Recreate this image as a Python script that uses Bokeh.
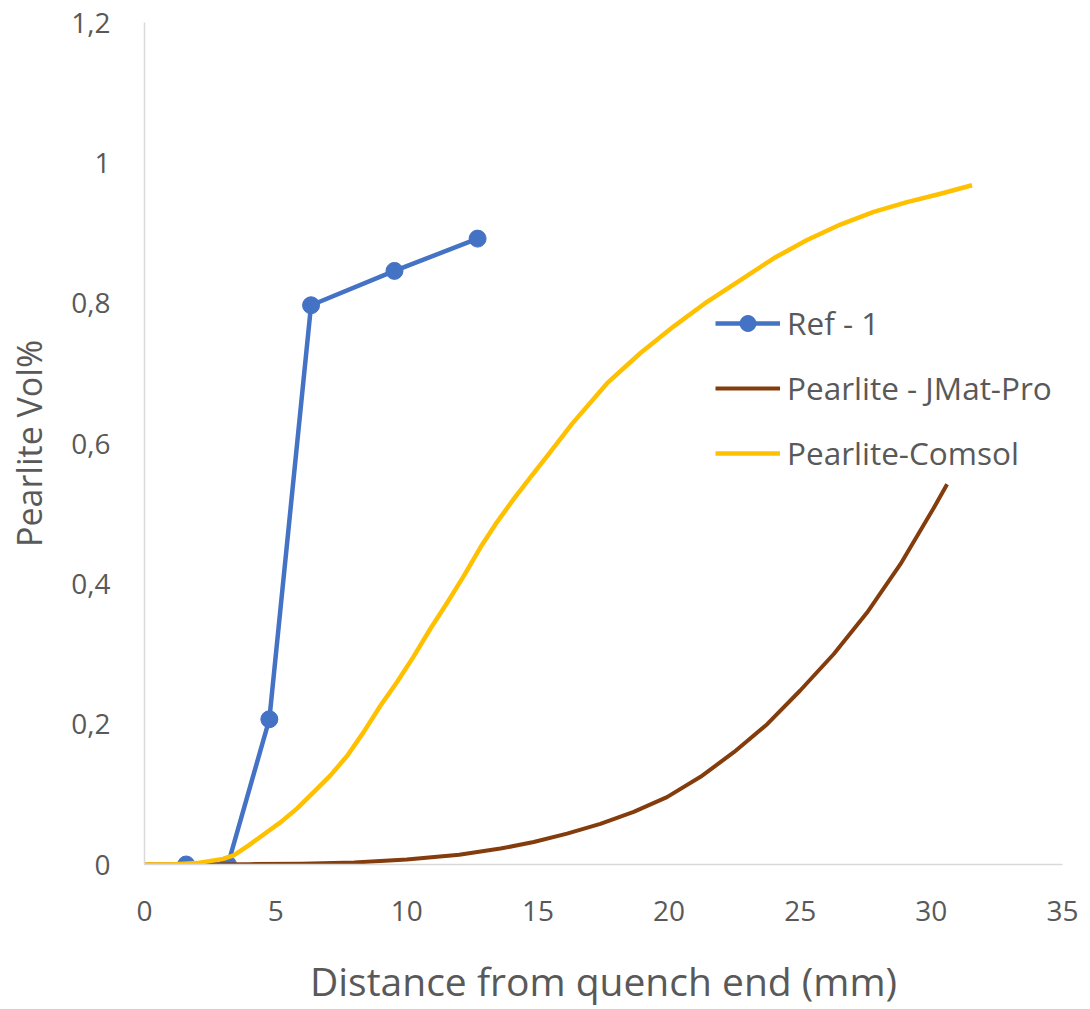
from bokeh.plotting import figure
from bokeh.models import Range1d, FixedTicker, Legend, LegendItem
from bokeh.embed import file_html
from bokeh.resources import INLINE

# ---- data ----
ref_x = [1.59, 3.18, 4.76, 6.35, 9.53, 12.7]
ref_y = [0.0, 0.0, 0.207, 0.797, 0.846, 0.892]

jmat_x = [0, 2, 4, 6, 8, 10, 12, 13.57, 14.84, 16.11, 17.38, 18.65, 19.92,
          21.2, 22.47, 23.74, 25.0, 26.28, 27.55, 28.82, 30.09, 30.6]
jmat_y = [0.0, 0.0, 0.0005, 0.001, 0.003, 0.007, 0.014, 0.0227, 0.032, 0.044,
          0.058, 0.075, 0.096, 0.125, 0.16, 0.2, 0.248, 0.3, 0.359, 0.428,
          0.508, 0.542]

comsol_x = [0, 1, 2, 3, 3.4, 4.0, 4.7, 5.18, 5.82, 6.45, 7.09, 7.73, 8.36,
            9.0, 9.63, 10.27, 10.9, 11.54, 12.17, 12.81, 13.44, 14.08, 14.72,
            15.35, 16.3, 17.64, 18.91, 20.18, 21.45, 22.72, 23.99,
            25.26, 26.53, 27.8, 29.07, 30.35, 31.55]
comsol_y = [0.0, 0.0, 0.002, 0.008, 0.013, 0.028, 0.047, 0.06, 0.08, 0.103,
            0.127, 0.155, 0.189, 0.2265, 0.26, 0.297, 0.336, 0.373, 0.411,
            0.452, 0.488, 0.521, 0.552, 0.582, 0.628, 0.686, 0.729,
            0.767, 0.802, 0.833, 0.864, 0.89, 0.912, 0.93, 0.944, 0.956, 0.968]

x_ticks = [0, 5, 10, 15, 20, 25, 30, 35]
x_tick_labels = ["0", "5", "10", "15", "20", "25", "30", "35"]
y_ticks = [0, 0.2, 0.4, 0.6, 0.8, 1.0, 1.2]
y_tick_labels = ["0", "0,2", "0,4", "0,6", "0,8", "1", "1,2"]

series_names = ["Ref - 1", "Pearlite - JMat-Pro", "Pearlite-Comsol"]
x_title = "Distance from quench end (mm)"
y_title = "Pearlite Vol%"

# ---- styles ----
BLUE = "#4472C4"
BROWN = "#843C0C"
GOLD = "#FFC000"
TEXT = "#595959"
AXIS = "#D9D9D9"
FONT = "Open Sans"

p = figure(width=1090, height=1009,
           x_range=Range1d(0, 35), y_range=Range1d(0, 1.2),
           output_backend="svg", toolbar_location=None,
           min_border_left=144, min_border_right=28,
           min_border_top=22, min_border_bottom=143)

p.outline_line_color = None
p.background_fill_color = "white"
p.border_fill_color = "white"
p.xgrid.grid_line_color = None
p.ygrid.grid_line_color = None

for ax in (p.xaxis[0], p.yaxis[0]):
    ax.axis_line_color = AXIS
    ax.axis_line_width = 1.5
    ax.major_tick_line_color = None
    ax.minor_tick_line_color = None
    ax.major_tick_out = 0
    ax.major_tick_in = 0
    ax.minor_tick_out = 0
    ax.minor_tick_in = 0
    ax.major_label_text_color = TEXT
    ax.major_label_text_font = FONT
    ax.major_label_text_font_size = "28px"
    ax.axis_label_text_color = TEXT
    ax.axis_label_text_font = FONT
    ax.axis_label_text_font_style = "normal"

p.xaxis.ticker = FixedTicker(ticks=x_ticks)
p.xaxis.major_label_overrides = dict(zip(x_ticks, x_tick_labels))
p.yaxis.ticker = FixedTicker(ticks=y_ticks)
p.yaxis.major_label_overrides = dict(zip(y_ticks, y_tick_labels))

p.xaxis.axis_label = x_title
p.xaxis.axis_label_text_font_size = "39px"
p.xaxis.major_label_standoff = 36
p.xaxis.axis_label_standoff = 30

p.yaxis.axis_label = y_title
p.yaxis.axis_label_text_font_size = "34px"
p.yaxis.major_label_standoff = 34
p.yaxis.axis_label_standoff = 16

# ---- series (drawn in Excel order: Ref, JMat, Comsol on top) ----
r_ref_line = p.line(ref_x, ref_y, line_color=BLUE, line_width=4.5, line_join="round")
r_ref_pts = p.scatter(ref_x, ref_y, size=17, fill_color=BLUE, line_color=BLUE)
r_jmat = p.line(jmat_x, jmat_y, line_color=BROWN, line_width=4, line_join="round")
r_comsol = p.line(comsol_x, comsol_y, line_color=GOLD, line_width=4.5, line_join="round")

legend = Legend(items=[
    LegendItem(label=series_names[0], renderers=[r_ref_line, r_ref_pts]),
    LegendItem(label=series_names[1], renderers=[r_jmat]),
    LegendItem(label=series_names[2], renderers=[r_comsol]),
], location=(571, 390))
legend.padding = 0
legend.margin = 0
legend.spacing = 22
legend.glyph_width = 65
legend.glyph_height = 40
legend.label_height = 40
legend.label_standoff = 7
legend.border_line_color = None
legend.background_fill_alpha = 0
legend.label_text_font = FONT
legend.label_text_font_size = "31.5px"
legend.label_text_color = TEXT
p.add_layout(legend)

open("out.html", "w").write(file_html(p, INLINE))
